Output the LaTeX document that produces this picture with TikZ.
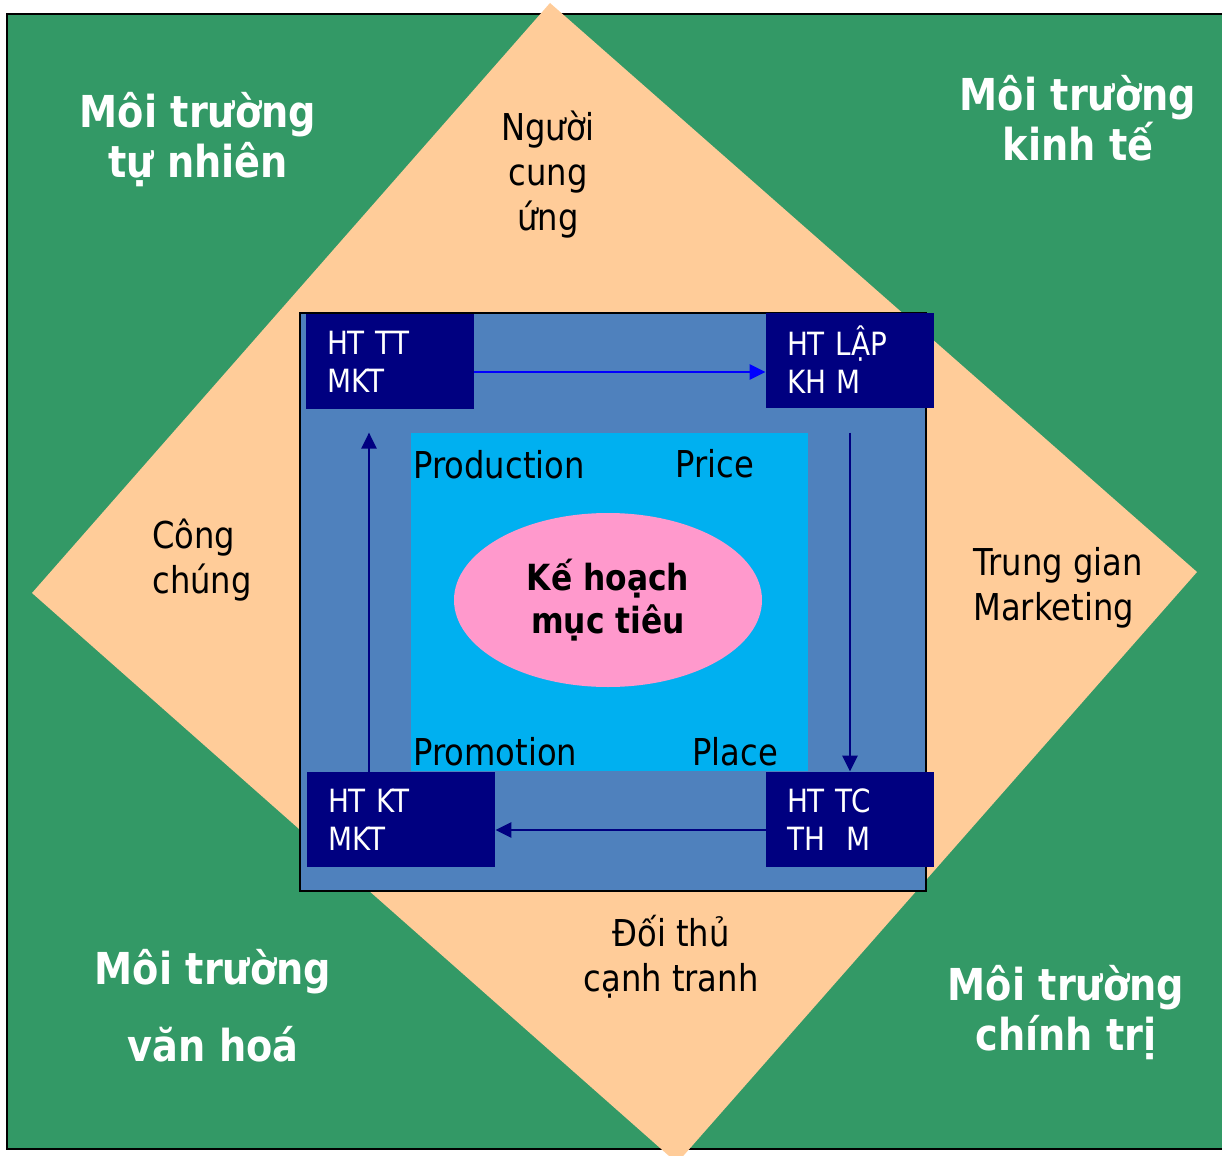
\documentclass[tikz,border=0pt]{standalone}
\usepackage{fontspec}
\setmainfont{DejaVu Sans}[FakeStretch=0.87]
\usepackage{tikz}
\usetikzlibrary{shapes.geometric,arrows.meta,positioning,calc}

\definecolor{envgreen}{HTML}{339966}
\definecolor{peach}{HTML}{FFCC99}
\definecolor{steel}{HTML}{4F81BD}
\definecolor{mixblue}{HTML}{00B0F0}
\definecolor{goalpink}{HTML}{FF99CC}
\definecolor{navybox}{HTML}{000080}
\definecolor{flowblue}{HTML}{0000FF}

\begin{document}
\begin{tikzpicture}[x=0.5pt, y=-0.5pt,
  envlabel/.style={text=white, font=\fontsize{22}{25}\selectfont\bfseries, align=center, inner sep=0pt},
  actor/.style={font=\fontsize{18.5}{22.5}\selectfont, inner sep=0pt},
  ppart/.style={font=\fontsize{18.5}{22}\selectfont, anchor=west, inner sep=0pt},
  sysbox/.style={rectangle, fill=navybox, text=white, font=\fontsize{16}{19}\selectfont,
    align=left, minimum height=47.5pt, inner xsep=10.5pt, inner ysep=0pt},
  arr/.style={-{Triangle[length=8pt,width=7.5pt]}, line width=1.2pt, navybox}
]
\useasboundingbox (0,0) rectangle (1222,1156);
\clip (0,0) rectangle (1222,1156);

% Background - environment and diamond
\draw[fill=envgreen, line width=1pt] (7,14) rectangle (1240,1149);
\fill[peach] (550,3) -- (1197,572) -- (677,1163) -- (32,593) -- cycle;

% Marketing system frame
\node[rectangle, draw, line width=0.8pt, fill=steel, minimum width=313pt,
  minimum height=289pt, inner sep=0pt] (plan) at (613,602) {};
\node[rectangle, fill=mixblue, minimum width=198.5pt, minimum height=169pt,
  inner sep=0pt] (mix) at (609.5,602) {};
\node[ellipse, fill=goalpink, minimum width=154pt, minimum height=87pt, inner sep=0pt,
  align=center, font=\fontsize{18}{21.5}\selectfont\bfseries] (goal) at (608,600)
  {Kế hoạch\\mục tiêu};

% 4P
\node[ppart] (product) at (413,465) {Production};
\node[ppart] (price) at (675,464) {Price};
\node[ppart] (promo) at (413,752) {Promotion};
\node[ppart] (place) at (692,752) {Place};

% Subsystems
\node[sysbox, text width=63pt] (ttmkt) at (390,361.5) {HT TT\\MKT};
\node[sysbox, text width=63pt] (lap) at (850,360) {HT LẬP\\KH M};
\node[sysbox, text width=73pt] (ktmkt) at (401,819.5) {HT KT\\MKT};
\node[sysbox, text width=63pt] (tcth) at (850,819.5) {HT TC\\TH\ \ M};

% Arrows
\draw[arr, flowblue] ([yshift=-5.25pt]ttmkt.east) -- ([yshift=-5.25pt]ttmkt.east -| lap.west);
\draw[arr] (lap.south |- mix.north) -- (tcth.north);
\draw[arr] ([yshift=-5.25pt]tcth.west) -- ([yshift=-5.25pt]ktmkt.east);
\draw[arr] ([xshift=-16pt]ktmkt.north) -- ([xshift=-16pt]ktmkt.north |- mix.north);

% Micro environment
\node[actor, align=center] (supplier) at (548,175) {Người\\cung\\ứng};
\node[actor, align=left, anchor=west] (public) at (152,560) {Công\\chúng};
\node[actor, align=left, anchor=west] (middlemen) at (973,588) {Trung gian\\Marketing};
\node[actor, align=center] (rivals) at (671,957) {Đối thủ\\cạnh tranh};

% Macro environment
\node[envlabel] (natural) at (198,140) {Môi trường\\tự nhiên};
\node[envlabel] (economic) at (1078,118) {Môi trường\\kinh tế};
\node[envlabel, font=\fontsize{22}{38.5}\selectfont\bfseries] (cultural) at (213,1006) {Môi trường\\văn hoá};
\node[envlabel] (political) at (1066,1013) {Môi trường\\chính trị};

\end{tikzpicture}
\end{document}
